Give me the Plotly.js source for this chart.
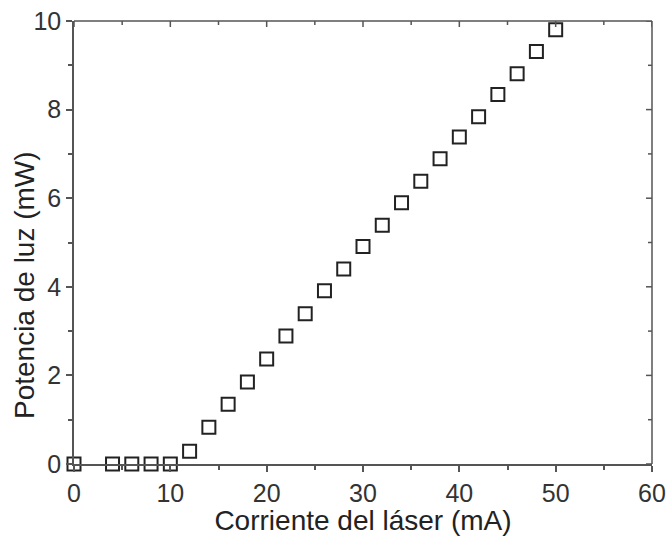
<!DOCTYPE html>
<html>
<head>
<meta charset="utf-8">
<script src="https://cdn.plot.ly/plotly-3.0.1.min.js"></script>
<style>html,body{margin:0;padding:0;background:#fff;}#chart{width:670px;height:536px;}</style>
</head>
<body>
<div id="chart"></div>
<script>
const corriente = [0, 4, 6, 8, 10, 12, 14, 16, 18, 20, 22, 24, 26, 28, 30, 32, 34, 36, 38, 40, 42, 44, 46, 48, 50];
const potencia = [0, 0, 0, 0, 0, 0.29, 0.83, 1.35, 1.85, 2.37, 2.89, 3.39, 3.91, 4.40, 4.91, 5.39, 5.90, 6.38, 6.89, 7.38, 7.84, 8.34, 8.81, 9.31, 9.80];
const xTitle = 'Corriente del láser (mA)';
const yTitle = 'Potencia de luz (mW)';
const xRange = [0, 60];
const yRange = [0, 10];

const FONT = '"Liberation Sans", Arial, Helvetica, sans-serif';
const axisColor = '#555';
const W = 670, H = 536, M = {l: 74, r: 18, t: 21, b: 72};
const plotW = W - M.l - M.r, plotH = H - M.t - M.b;

function deco(extra) {
  return Object.assign({
    showline: true, linecolor: axisColor, linewidth: 1.5, zeroline: false, showgrid: false,
    tickwidth: 1.5, tickcolor: axisColor, showticklabels: false, fixedrange: true
  }, extra);
}

// frame (top and right edges) and inward ticks on top / right, following the axis tick spacing
const shapes = [
  {type: 'line', xref: 'paper', yref: 'paper', x0: 0, x1: 1, y0: 1, y1: 1, line: {color: axisColor, width: 1.5}, layer: 'above'},
  {type: 'line', xref: 'paper', yref: 'paper', x0: 1, x1: 1, y0: 0, y1: 1, line: {color: axisColor, width: 1.5}, layer: 'above'}
];
for (let v = xRange[0]; v <= xRange[1]; v += 5) {
  const len = (v % 10 === 0 ? 6 : 4) / plotH;
  shapes.push({type: 'line', xref: 'x', yref: 'paper', x0: v, x1: v, y0: 1, y1: 1 - len, line: {color: axisColor, width: 1.5}, layer: 'above'});
}
for (let v = yRange[0]; v <= yRange[1]; v += 1) {
  const len = (v % 2 === 0 ? 6 : 4) / plotW;
  shapes.push({type: 'line', xref: 'paper', yref: 'y', x0: 1, x1: 1 - len, y0: v, y1: v, line: {color: axisColor, width: 1.5}, layer: 'above'});
}

const layout = {
  width: W, height: H,
  margin: M,
  showlegend: false,
  paper_bgcolor: '#fff', plot_bgcolor: '#fff',
  xaxis: deco({range: xRange, dtick: 10, tick0: 0, ticks: 'outside', ticklen: 6, showticklabels: true,
    tickfont: {family: FONT, size: 25, color: '#333'},
    title: {text: xTitle, font: {family: FONT, size: 28, color: '#222'}, standoff: 2}}),
  yaxis: deco({range: yRange, dtick: 2, tick0: 0, ticks: 'outside', ticklen: 6, showticklabels: true,
    tickfont: {family: FONT, size: 25, color: '#333'}}),
  xaxis3: deco({overlaying: 'x', side: 'bottom', anchor: 'y', range: xRange, dtick: 5, tick0: 0, ticks: 'outside', ticklen: 4}),
  yaxis3: deco({overlaying: 'y', side: 'left', anchor: 'x', range: yRange, dtick: 1, tick0: 0, ticks: 'outside', ticklen: 4}),
  shapes: shapes,
  annotations: [{
    text: yTitle, textangle: -90, xref: 'paper', yref: 'paper',
    x: -0.0865, y: 0.404, xanchor: 'center', yanchor: 'middle', showarrow: false,
    font: {family: FONT, size: 28, color: '#222'}
  }]
};

function helper(xa, ya) {
  return {x: xRange, y: yRange, xaxis: xa, yaxis: ya, type: 'scatter', mode: 'markers',
    marker: {opacity: 0, size: 1}, hoverinfo: 'skip', showlegend: false};
}

const trace = {
  x: corriente, y: potencia, type: 'scatter', mode: 'markers',
  cliponaxis: false, showlegend: false,
  marker: {symbol: 'square-open', size: 13, color: '#222', line: {width: 2, color: '#222'}},
  hoverinfo: 'skip'
};

Plotly.newPlot('chart', [helper('x3', 'y'), helper('x', 'y3'), trace], layout, {displayModeBar: false});
</script>
</body>
</html>
